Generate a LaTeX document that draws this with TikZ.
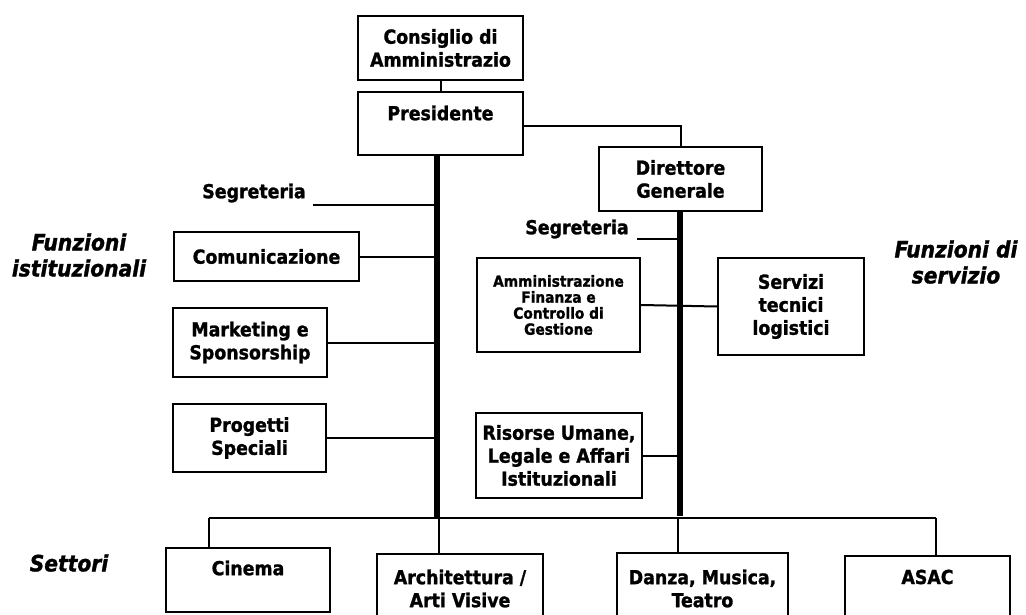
\documentclass[tikz,border=0pt]{standalone}
\usepackage{fontspec}
\setmainfont{DejaVu Sans Condensed}[BoldFeatures={FakeBold=1.3},BoldItalicFeatures={FakeBold=1.3}]
\newcommand\boxfont{\fontsize{19.3}{23}\selectfont\bfseries}
\newcommand\smallboxfont{\fontsize{15.3}{16}\selectfont\bfseries}
\newcommand\groupfont{\fontsize{22.5}{26}\selectfont\bfseries\itshape}
\begin{document}
\begin{tikzpicture}[x=1pt,y=-1pt,
  box/.style={draw,line width=2.3pt,rectangle,inner sep=0pt,align=center,font=\boxfont},
  txt/.style={inner sep=0pt,align=center,font=\boxfont},
  grp/.style={inner sep=0pt,align=center,font=\groupfont},
  link/.style={line width=2pt},
  spine/.style={line width=5.5pt}]
\useasboundingbox (0,0) rectangle (1026,615);
\clip (0,0) rectangle (1026,615);

% top of the hierarchy
\node[box,minimum width=165pt,minimum height=64pt] (cons) at (440.5,48) {Consiglio di\\Amministrazio};
\node[box,minimum width=165pt,minimum height=63pt] (pres) at (440.5,123.5) {};
\node[txt] (prest) at (440.5,113) {Presidente};
\node[box,minimum width=163pt,minimum height=64pt] (dir) at (680.5,179) {Direttore\\Generale};

% institutional functions
\node[txt] (segl) at (254,193) {Segreteria};
\coordinate (segle) at (313,205);
\node[box,minimum width=185pt,minimum height=49pt] (com) at (266.5,256.5) {Comunicazione};
\node[box,minimum width=154pt,minimum height=69pt] (mkt) at (250,342.5) {Marketing e\\Sponsorship};
\node[box,minimum width=153pt,minimum height=68pt] (prog) at (249.5,438) {Progetti\\Speciali};
\node[grp] (fist) at (79,255) {Funzioni\\istituzionali};

% service functions
\node[txt] (segr) at (577,229) {Segreteria};
\coordinate (segre) at (637,239);
\node[box,font=\smallboxfont,minimum width=163pt,minimum height=94pt] (amm) at (558.5,305) {Amministrazione\\Finanza e\\Controllo di\\Gestione};
\node[box,minimum width=146pt,minimum height=97pt] (serv) at (791,306.5) {Servizi\\tecnici\\logistici};
\node[box,minimum width=166pt,minimum height=85pt] (ris) at (559,455.5) {Risorse Umane,\\Legale e Affari\\Istituzionali};
\node[grp] (fserv) at (956,262) {Funzioni di\\servizio};

% sectors
\node[grp] (sett) at (69,563) {Settori};
\node[box,minimum width=164pt,minimum height=64pt] (cin) at (248,580) {};
\node[txt] (cint) at (248,568) {Cinema};
\node[box,minimum width=166pt,minimum height=86pt] (arch) at (460,597) {};
\node[txt] (archt) at (460,588.5) {Architettura /\\Arti Visive};
\node[box,minimum width=171pt,minimum height=87pt] (danza) at (702.5,596.5) {};
\node[txt] (danzat) at (702.5,588.5) {Danza, Musica,\\Teatro};
\node[box,minimum width=165pt,minimum height=84pt] (asac) at (927.5,598) {};
\node[txt] (asact) at (927.5,577) {ASAC};

% junction points on the spines and the sector bar
\coordinate (pspine) at (437,518);
\coordinate (dspine) at (680,516);
\coordinate (barl) at (209,518);
\coordinate (barr) at (936,518);

% connectors
\draw[link] (cons.south) -- (pres.north);
\draw[link] (pres.east |- 0,126) -- (681,126) -- (dir.north -| 681,0);
\draw[spine] (pres.south -| 437,0) -- (pspine);
\draw[spine] (dir.south -| 680,0) -- (dspine);

\draw[link] (segle) -- (437,205);
\draw[link] (com.east) -- (com.east -| 437,0);
\draw[link] (mkt.east) -- (mkt.east -| 437,0);
\draw[link] (prog.east) -- (prog.east -| 437,0);

\draw[link] (segre) -- (680,239);
\draw[link] (amm.east) -- (serv.west);
\draw[link] (ris.east) -- (ris.east -| 680,0);

\draw[link] (barl) -- (barr);
\draw[link] (barl) -- (cin.north -| barl);
\draw[link] (439,518) -- (arch.north -| 439,0);
\draw[link] (678,518) -- (danza.north -| 678,0);
\draw[link] (barr) -- (asac.north -| barr);
\end{tikzpicture}
\end{document}
